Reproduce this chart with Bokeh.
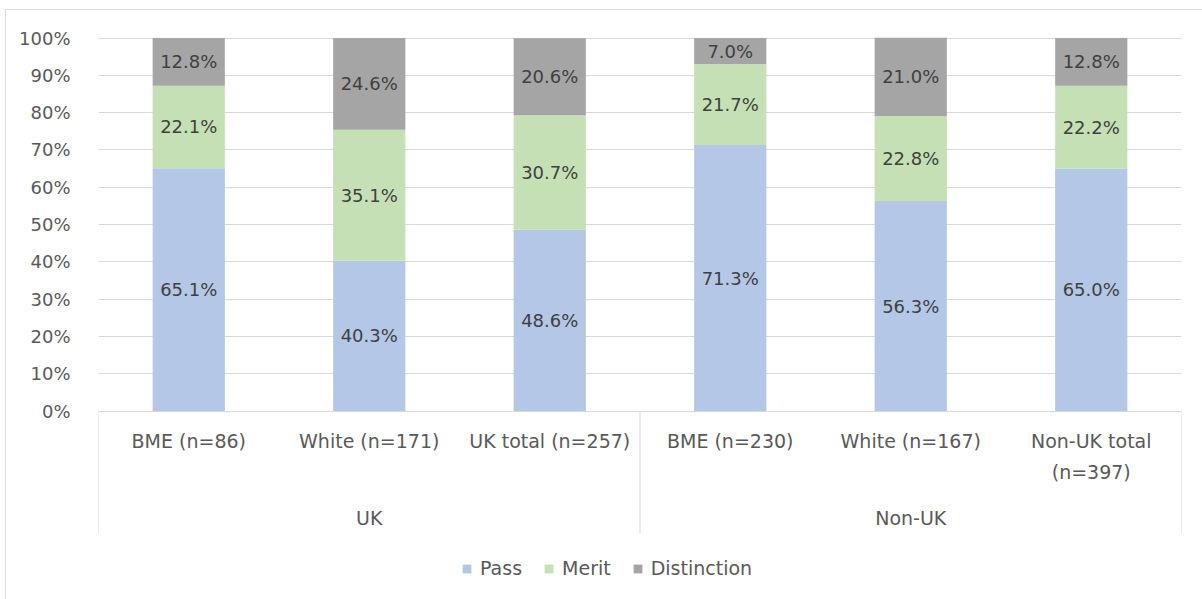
from bokeh.plotting import figure
from bokeh.models import (FactorRange, Range1d, FixedTicker, PrintfTickFormatter,
                          ColumnDataSource, Legend, LegendItem)
from bokeh.core.properties import value
from bokeh.embed import file_html
from bokeh.resources import INLINE

# ---- data ----
groups = ["UK", "UK", "UK", "Non-UK", "Non-UK", "Non-UK"]
subcats = ["BME (n=86)", "White (n=171)", "UK total (n=257)",
           "BME (n=230)", "White (n=167)", "Non-UK total (n=397)"]
sub_labels = ["BME (n=86)", "White (n=171)", "UK total (n=257)",
              "BME (n=230)", "White (n=167)", "Non-UK total\n(n=397)"]
group_names = ["UK", "Non-UK"]
series = ["Pass", "Merit", "Distinction"]
pass_vals = [65.1, 40.3, 48.6, 71.3, 56.3, 65.0]
merit_vals = [22.1, 35.1, 30.7, 21.7, 22.8, 22.2]
dist_vals = [12.8, 24.6, 20.6, 7.0, 21.0, 12.8]
y_ticks = [0, 10, 20, 30, 40, 50, 60, 70, 80, 90, 100]

colors = ["#B4C7E7", "#C5E0B4", "#A5A5A5"]
FONT = value("DejaVu Sans")

factors = list(zip(groups, subcats))
src = ColumnDataSource(dict(x=factors, Pass=pass_vals, Merit=merit_vals,
                            Distinction=dist_vals))

# page geometry: figure placed at (6, 10); 100% at y=37.5px, 0% at y=410.5px
OX, OY = 6, 10
scale = (410.5 - 37.5) / 100.0
frame_top, frame_bottom = 10, 598
y_end = 100 + (37.5 - frame_top) / scale
y_start = -(frame_bottom - 410.5) / scale
W, H = 1202 - OX, 599 - OY

p = figure(width=W, height=H, output_backend="svg", toolbar_location=None,
           x_range=FactorRange(*factors, group_padding=0, factor_padding=0,
                               range_padding=0),
           y_range=Range1d(y_start, y_end),
           min_border_left=98 - OX, min_border_right=W - (1181 - OX),
           min_border_top=frame_top - OY, min_border_bottom=H - (frame_bottom - OY),
           margin=(OY, 0, 0, OX),
           styles={"outline": "1px solid #D9D9D9"})
p.outline_line_color = None
p.background_fill_color = "white"
p.border_fill_color = "white"

renderers = p.vbar_stack(series, x="x", width=0.4, color=colors, source=src,
                         line_color=None)

# y axis
tick = FixedTicker(ticks=y_ticks)
p.yaxis.ticker = tick
p.yaxis.formatter = PrintfTickFormatter(format="%d%%")
p.yaxis.axis_line_color = None
p.yaxis.major_tick_line_color = None
p.yaxis.minor_tick_line_color = None
p.yaxis.major_label_text_font = "DejaVu Sans"
p.yaxis.major_label_text_font_size = "18px"
p.yaxis.major_label_text_color = "#595959"
p.yaxis.major_label_standoff = 22
p.ygrid.ticker = tick
p.ygrid.grid_line_color = "#D9D9D9"
p.ygrid.grid_line_width = 1
p.xgrid.grid_line_color = None
p.xaxis.visible = False

# data labels
lx, ly, lt = [], [], []
bottoms = [0.0] * len(factors)
for vals in (pass_vals, merit_vals, dist_vals):
    for i, v in enumerate(vals):
        lx.append(factors[i])
        ly.append(bottoms[i] + v / 2)
        lt.append(f"{v:.1f}%")
        bottoms[i] += v
p.text(x="x", y="y", text="t", source=ColumnDataSource(dict(x=lx, y=ly, t=lt)),
       text_font=FONT, text_font_size="18px", text_align="center",
       text_baseline="middle", text_color="#404040")

# category axis (Excel style)
sep_bottom = -(533 - 410.5) / scale
p.segment(x0=[0, 3, 6], y0=[0, 0, 0], x1=[0, 3, 6],
          y1=[sep_bottom] * 3, line_color="#D9D9D9", line_width=1)
sub_y = -(429 - 410.5) / scale
p.text(x=factors, y=[sub_y] * len(factors), text=sub_labels, text_font=FONT,
       text_font_size="19px", text_align="center", text_baseline="top",
       text_color="#595959", text_line_height=1.45)
grp_y = -(517 - 410.5) / scale
p.text(x=group_names, y=[grp_y] * 2, text=group_names, text_font=FONT,
       text_font_size="19px", text_align="center", text_baseline="middle",
       text_color="#595959")

# legend
legend = Legend(items=[LegendItem(label=s, renderers=[r])
                       for s, r in zip(series, renderers)],
                orientation="horizontal", location=(363, 19),
                glyph_width=11, glyph_height=11, label_standoff=8, spacing=21,
                padding=0, margin=0, border_line_color=None,
                background_fill_alpha=0,
                label_text_font="DejaVu Sans", label_text_font_size="19px",
                label_text_color="#595959")
p.add_layout(legend)

open("out.html", "w").write(file_html(p, INLINE))
